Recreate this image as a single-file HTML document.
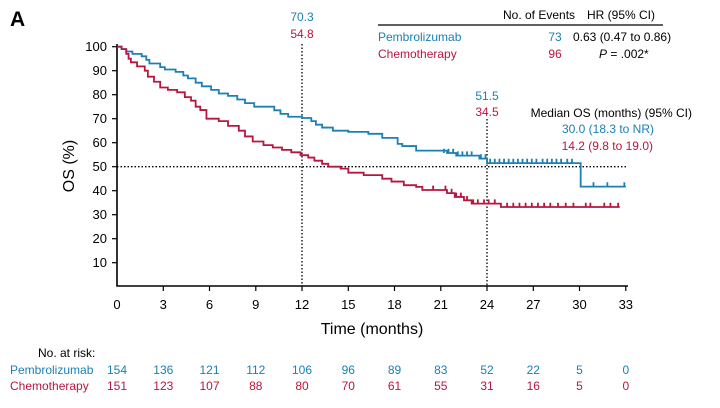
<!DOCTYPE html>
<html><head><meta charset="utf-8"><style>
body{margin:0;background:#fff;}
svg{display:block;font-family:"Liberation Sans",Arial,sans-serif;}
.b{fill:#1a80b6}.r{fill:#b8163f}
</style></head><body>
<svg width="720" height="408" viewBox="0 0 720 408" xmlns="http://www.w3.org/2000/svg">
<text x="10" y="26" font-size="21" font-weight="bold">A</text>
<!-- header table -->
<text x="503" y="19" font-size="12">No. of Events</text>
<text x="587" y="19" font-size="12">HR (95% CI)</text>
<line x1="378" y1="25" x2="663" y2="25" stroke="#000" stroke-width="1.2"/>
<text x="378" y="41" font-size="12" class="b">Pembrolizumab</text>
<text x="555" y="41" font-size="12" class="b" text-anchor="middle">73</text>
<text x="573" y="41" font-size="12">0.63 (0.47 to 0.86)</text>
<text x="378" y="58" font-size="12" class="r">Chemotherapy</text>
<text x="555" y="58" font-size="12" class="r" text-anchor="middle">96</text>
<text x="599" y="58" font-size="12"><tspan font-style="italic">P</tspan> = .002*</text>
<!-- annotations -->
<text x="302" y="21" font-size="12" class="b" text-anchor="middle">70.3</text>
<text x="302" y="38" font-size="12" class="r" text-anchor="middle">54.8</text>
<text x="487" y="100" font-size="12" class="b" text-anchor="middle">51.5</text>
<text x="487" y="116" font-size="12" class="r" text-anchor="middle">34.5</text>
<text x="692" y="117" font-size="12" text-anchor="end">Median OS (months) (95% CI)</text>
<text x="654" y="133" font-size="12" class="b" text-anchor="end">30.0 (18.3 to NR)</text>
<text x="653" y="150" font-size="12" class="r" text-anchor="end">14.2 (9.8 to 19.0)</text>
<!-- reference lines -->
<g stroke="#000" stroke-width="1.3" stroke-dasharray="1.5,2" fill="none">
<line x1="302" y1="44" x2="302" y2="286"/>
<line x1="487" y1="119" x2="487" y2="286"/>
<line x1="117" y1="166.7" x2="626" y2="166.7"/>
</g>
<!-- axes -->
<g stroke="#000" stroke-width="1.6" fill="none">
<path d="M117,44 V286 H628"/>
</g>
<g stroke="#000" stroke-width="1.2">
<line x1="112" y1="46.7" x2="117" y2="46.7"/><line x1="112" y1="70.7" x2="117" y2="70.7"/>
<line x1="112" y1="94.7" x2="117" y2="94.7"/><line x1="112" y1="118.7" x2="117" y2="118.7"/>
<line x1="112" y1="142.7" x2="117" y2="142.7"/><line x1="112" y1="166.7" x2="117" y2="166.7"/>
<line x1="112" y1="190.7" x2="117" y2="190.7"/><line x1="112" y1="214.7" x2="117" y2="214.7"/>
<line x1="112" y1="238.7" x2="117" y2="238.7"/><line x1="112" y1="262.7" x2="117" y2="262.7"/>
<line x1="163.3" y1="286" x2="163.3" y2="291"/><line x1="209.5" y1="286" x2="209.5" y2="291"/>
<line x1="255.8" y1="286" x2="255.8" y2="291"/><line x1="302" y1="286" x2="302" y2="291"/>
<line x1="348.3" y1="286" x2="348.3" y2="291"/><line x1="394.5" y1="286" x2="394.5" y2="291"/>
<line x1="440.8" y1="286" x2="440.8" y2="291"/><line x1="487" y1="286" x2="487" y2="291"/>
<line x1="533.3" y1="286" x2="533.3" y2="291"/><line x1="579.5" y1="286" x2="579.5" y2="291"/>
<line x1="625.8" y1="286" x2="625.8" y2="291"/>
</g>
<g font-size="13" text-anchor="end">
<text x="107" y="51">100</text><text x="107" y="75">90</text><text x="107" y="99">80</text>
<text x="107" y="123">70</text><text x="107" y="147">60</text><text x="107" y="171">50</text>
<text x="107" y="195">40</text><text x="107" y="219">30</text><text x="107" y="243">20</text>
<text x="107" y="267">10</text>
</g>
<g font-size="13" text-anchor="middle">
<text x="117" y="309">0</text><text x="163.3" y="309">3</text><text x="209.5" y="309">6</text>
<text x="255.8" y="309">9</text><text x="302" y="309">12</text><text x="348.3" y="309">15</text>
<text x="394.5" y="309">18</text><text x="440.8" y="309">21</text><text x="487" y="309">24</text>
<text x="533.3" y="309">27</text><text x="579.5" y="309">30</text><text x="625.8" y="309">33</text>
</g>
<text x="372" y="334" font-size="16" text-anchor="middle">Time (months)</text>
<text transform="translate(74,166) rotate(-90)" font-size="16" text-anchor="middle">OS (%)</text>
<!-- curves -->
<g transform="translate(117,286.7) scale(15.42,-2.4)" fill="none" stroke-width="1.8" stroke-linejoin="miter">
<path vector-effect="non-scaling-stroke" stroke="#1a80b6" d="M0,100 H0.3 V99 H0.6 V98 H1 V97 H1.6 V96 H1.9 V94.5 H2.1 V93 H2.8 V91.5 H3.1 V90.5 H3.8 V89.5 H4.3 V88 H4.6 V86.8 H5.1 V85 H5.5 V83.5 H6.1 V82 H6.6 V80.5 H7.2 V79.5 H7.8 V78 H8.3 V76.5 H8.9 V75 H10.2 V73.5 H10.6 V72 H11.1 V70.8 H12 V70.3 H12.6 V69 H12.9 V67.5 H13.3 V66.3 H14 V65 H15 V64.5 H16.3 V63.7 H17.2 V62 H18.2 V59.5 H18.5 V58.6 H19.4 V56.7 H21.4 V55.7 H22 V54.6 H23.5 V53.4 H24 V51.5 H30.07 V41.7 H33"/>
<path vector-effect="non-scaling-stroke" stroke="#b8163f" d="M0,100 H0.3 V99 H0.6 V97 H0.75 V95 H0.9 V93.5 H1.3 V91.8 H1.8 V90 H2.0 V87.5 H2.4 V85.4 H2.8 V83 H3.3 V82 H3.9 V81 H4.4 V79 H4.8 V77.5 H5.1 V75 H5.4 V73.6 H5.8 V70 H6.6 V69 H7.2 V67 H7.9 V65 H8.3 V62.6 H8.8 V60.5 H9.5 V59 H10.1 V58 H10.7 V57 H11.3 V56 H11.9 V54.8 H12.4 V53.8 H12.8 V52.5 H13.3 V51.2 H13.7 V50 H14.5 V49.2 H15 V47.5 H16 V46.5 H17.2 V45 H17.8 V43.8 H18.6 V42.3 H19.4 V41.6 H19.8 V40.3 H21.4 V39 H21.9 V37.4 H22.5 V36 H23 V34.6 H24.9 V33.2 H32.6"/>
<g stroke="#1a80b6">
<path vector-effect="non-scaling-stroke" d="M21.2,55.7v1.8M21.5,55.7v1.8M21.8,55.7v1.8M22.1,54.6v1.8M22.4,54.6v1.8M22.7,54.6v1.8M23,54.6v1.8M23.6,53.4v1.8M23.9,53.4v1.8M24.2,51.5v1.8M24.5,51.5v1.8M24.8,51.5v1.8M25.1,51.5v1.8M25.4,51.5v1.8M25.7,51.5v1.8M26,51.5v1.8M26.3,51.5v1.8M26.6,51.5v1.8M26.9,51.5v1.8M27.2,51.5v1.8M27.6,51.5v1.8M27.9,51.5v1.8M28.2,51.5v1.8M28.5,51.5v1.8M28.8,51.5v1.8M29.2,51.5v1.8M29.5,51.5v1.8M30.9,41.7v1.8M31.8,41.7v1.8M32.9,41.7v1.8"/>
</g>
<g stroke="#b8163f">
<path vector-effect="non-scaling-stroke" d="M20.5,40.3v1.8M21.3,40.3v1.8M21.7,39v1.8M22,37.4v1.8M22.3,37.4v1.8M22.7,36v1.8M23.1,34.6v1.8M23.4,34.6v1.8M23.8,34.6v1.8M24.1,34.6v1.8M24.5,34.6v1.8M25.3,33.2v1.8M25.7,33.2v1.8M26.1,33.2v1.8M26.5,33.2v1.8M26.9,33.2v1.8M27.3,33.2v1.8M27.7,33.2v1.8M28.1,33.2v1.8M28.6,33.2v1.8M29.1,33.2v1.8M29.6,33.2v1.8M30.4,33.2v1.8M30.7,33.2v1.8M31.6,33.2v1.8M32,33.2v1.8M32.5,33.2v1.8"/>
</g>
</g>
<!-- at risk -->
<text x="38" y="357" font-size="12">No. at risk:</text>
<text x="10" y="374" font-size="12" class="b">Pembrolizumab</text>
<text x="10" y="390" font-size="12" class="r">Chemotherapy</text>
<g font-size="12" text-anchor="middle" class="b">
<text x="117" y="374">154</text><text x="163.3" y="374">136</text><text x="209.5" y="374">121</text>
<text x="255.8" y="374">112</text><text x="302" y="374">106</text><text x="348.3" y="374">96</text>
<text x="394.5" y="374">89</text><text x="440.8" y="374">83</text><text x="487" y="374">52</text>
<text x="533.3" y="374">22</text><text x="579.5" y="374">5</text><text x="625.8" y="374">0</text>
</g>
<g font-size="12" text-anchor="middle" class="r">
<text x="117" y="390">151</text><text x="163.3" y="390">123</text><text x="209.5" y="390">107</text>
<text x="255.8" y="390">88</text><text x="302" y="390">80</text><text x="348.3" y="390">70</text>
<text x="394.5" y="390">61</text><text x="440.8" y="390">55</text><text x="487" y="390">31</text>
<text x="533.3" y="390">16</text><text x="579.5" y="390">5</text><text x="625.8" y="390">0</text>
</g>
</svg>
</body></html>
